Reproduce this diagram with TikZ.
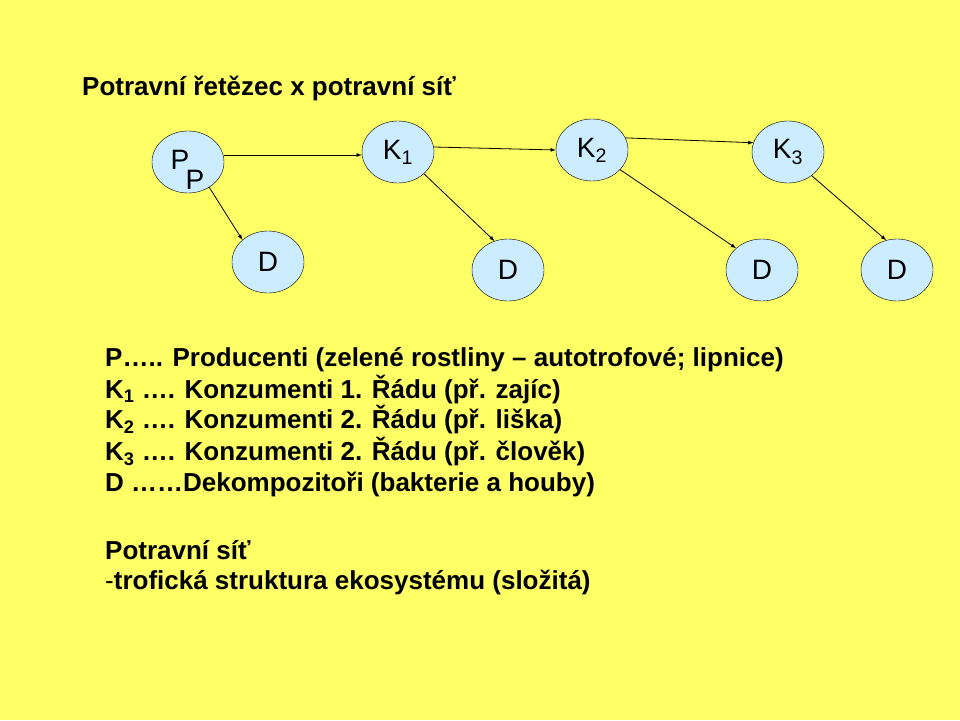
\documentclass[tikz,border=0pt]{standalone}
\usepackage{fontspec}
\setmainfont{Liberation Sans}
\usetikzlibrary{shapes.geometric}
\definecolor{bg}{HTML}{FFFF66}
\definecolor{nodefill}{HTML}{CCECFF}
\begin{document}
\begin{tikzpicture}[x=1pt,y=-1pt,
  org/.style={ellipse,draw=black,fill=nodefill,minimum width=72pt,minimum height=62pt,inner sep=0pt,font=\fontsize{28}{32}\selectfont},
  arr/.style={-latex,line width=0.8pt},
  txt/.style={anchor=west,font=\bfseries\fontsize{26}{30}\selectfont,inner sep=0pt}]
\fill[bg] (0,0) rectangle (960,720);
\useasboundingbox (0,0) rectangle (960,720);
\node[txt] (title) at (82,88) {Potravní řetězec x potravní síť};
\node[org] (P) at (188,162) {};
\node[font=\fontsize{28}{32}\selectfont] (pa) at (180,160) {P};
\node[font=\fontsize{28}{32}\selectfont] (pb) at (195,180) {P};
\node[org] (K1) at (398,152) {K\textsubscript{1}};
\node[org] (K2) at (592,150) {K\textsubscript{2}};
\node[org] (K3) at (788,152) {K\textsubscript{3}};
\node[org] (D1) at (268,262) {D};
\node[org] (D2) at (508,270) {D};
\node[org] (D3) at (762,270) {D};
\node[org] (D4) at (897,270) {D};
\coordinate (a1) at (225,155); \coordinate (b1) at (358,155);
\draw[arr] (P.east |- a1) -- (K1.west |- b1);
\draw[arr] (P.-50) -- (D1.north west);
\draw[arr] (K1.8) -- (K2.west);
\draw[arr] (K1.-40) -- (D2.115);
\draw[arr] (K2.20) -- (K3.165);
\draw[arr] (K2.-35) -- (D3.140);
\draw[arr] (K3.-45) -- (D4.110);
\node[txt] (l1) at (105,360) {P….. Producenti (zelené rostliny – autotrofové; lipnice)};
\node[txt] (l2) at (105,390) {K\textsubscript{1} …. Konzumenti 1. Řádu (př. zajíc)};
\node[txt] (l3) at (105,420) {K\textsubscript{2} …. Konzumenti 2. Řádu (př. liška)};
\node[txt] (l4) at (105,452) {K\textsubscript{3} …. Konzumenti 2. Řádu (př. člověk)};
\node[txt] (l5) at (105,484) {D ……Dekompozitoři (bakterie a houby)};
\node[txt] (l6) at (105,550) {Potravní síť};
\node[txt] (l7) at (105,582) {\mdseries-\bfseries trofická struktura ekosystému (složitá)};
\end{tikzpicture}
\end{document}
